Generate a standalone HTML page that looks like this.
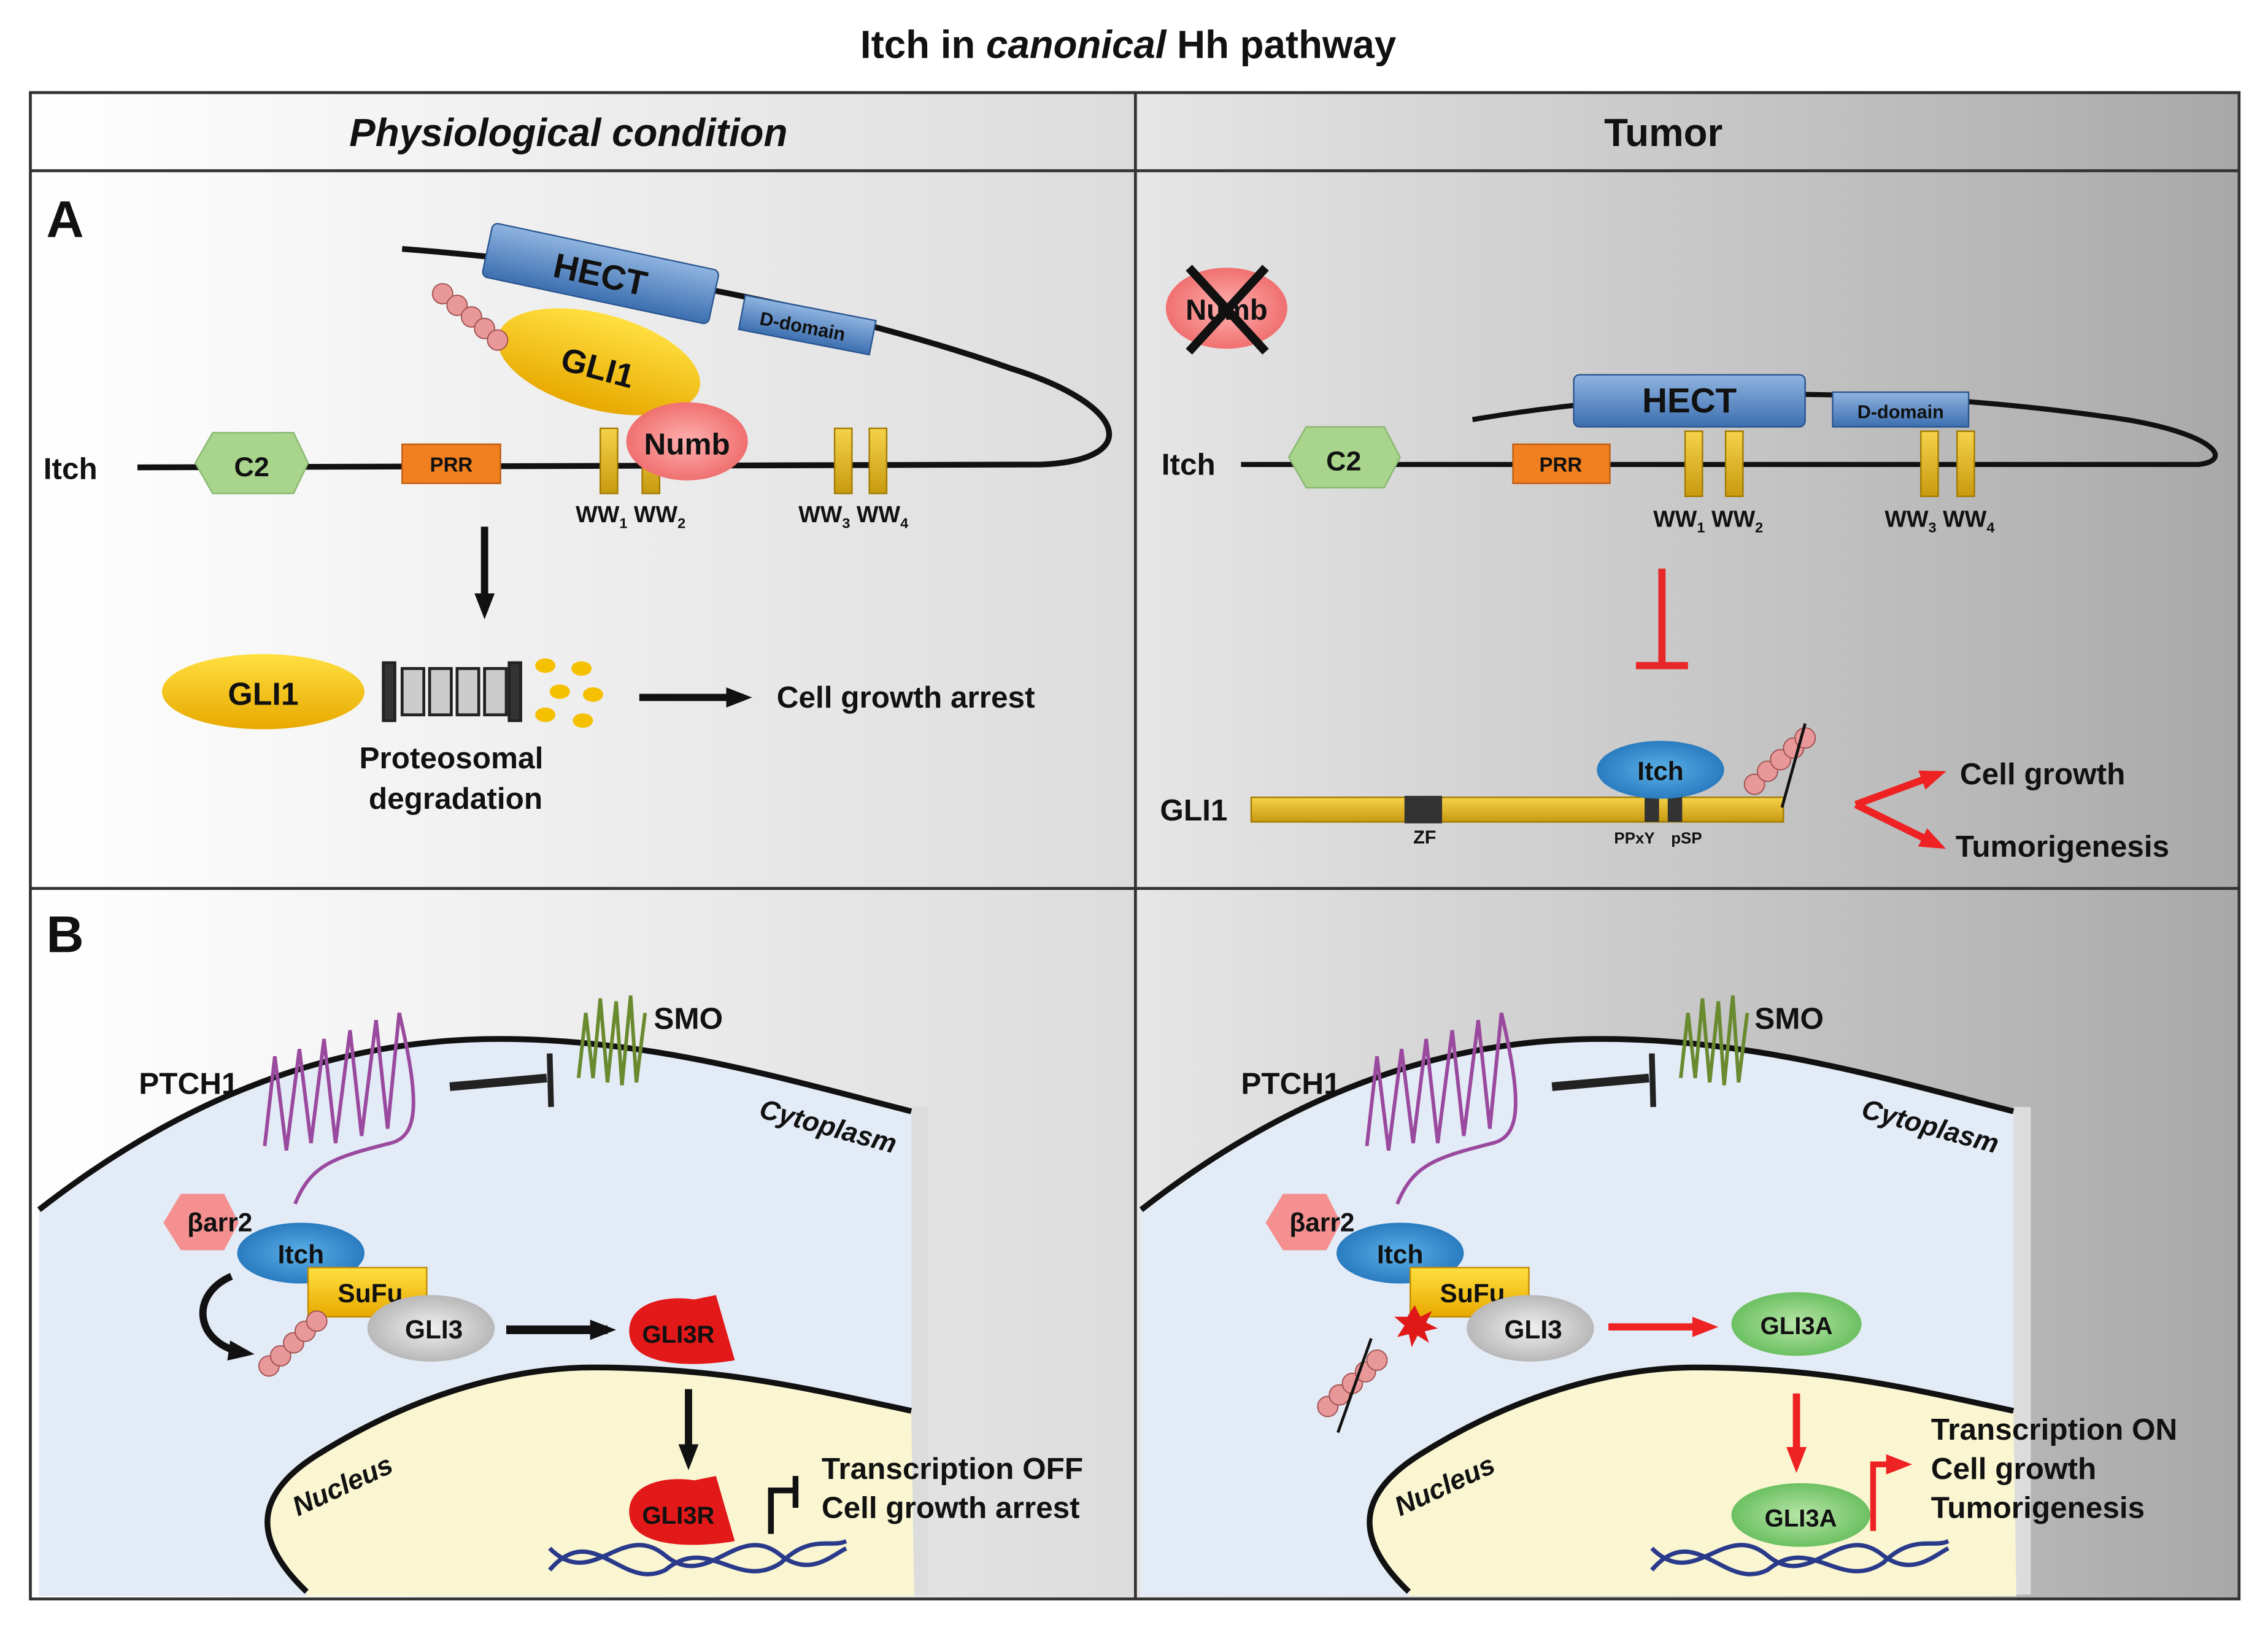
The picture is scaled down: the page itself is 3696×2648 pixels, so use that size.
<!DOCTYPE html>
<html><head><meta charset="utf-8"><style>
html,body{margin:0;padding:0;background:#fff}
svg{display:block}
text{font-family:"Liberation Sans",Arial,sans-serif;font-weight:bold;fill:#111}
</style></head><body>
<svg width="3696" height="2648" viewBox="0 0 1568 1123" preserveAspectRatio="none" xmlns="http://www.w3.org/2000/svg">
<defs>
<linearGradient id="gl" x1="0" x2="1"><stop offset="0" stop-color="#ffffff"/><stop offset="1" stop-color="#dcdcdc"/></linearGradient>
<linearGradient id="gr" x1="0" x2="1"><stop offset="0" stop-color="#e6e6e6"/><stop offset="0.8" stop-color="#b6b6b6"/><stop offset="1" stop-color="#a8a8a8"/></linearGradient>
<linearGradient id="hect" x1="0" y1="0" x2="0" y2="1"><stop offset="0" stop-color="#8fb4e0"/><stop offset="1" stop-color="#3c6fb0"/></linearGradient>
<linearGradient id="yel" x1="0" y1="0" x2="0" y2="1"><stop offset="0" stop-color="#ffe040"/><stop offset="1" stop-color="#e8a800"/></linearGradient>
<linearGradient id="bar" x1="0" y1="0" x2="0" y2="1"><stop offset="0" stop-color="#f5d24a"/><stop offset="1" stop-color="#c89a10"/></linearGradient>
<radialGradient id="blue"><stop offset="0" stop-color="#5bb0e8"/><stop offset="1" stop-color="#2a7cc0"/></radialGradient>
<radialGradient id="grey"><stop offset="0" stop-color="#f0f0f0"/><stop offset="1" stop-color="#b8b8b8"/></radialGradient>
<radialGradient id="green"><stop offset="0" stop-color="#b8e6a8"/><stop offset="1" stop-color="#6cc062"/></radialGradient>
<radialGradient id="pink"><stop offset="0" stop-color="#ffb0b0"/><stop offset="1" stop-color="#f07070"/></radialGradient>
<marker id="ab" markerUnits="userSpaceOnUse" markerWidth="18" markerHeight="18" refX="12" refY="9" orient="auto"><path d="M0,2L18,9L0,16z" fill="#111"/></marker>
<marker id="ar" markerUnits="userSpaceOnUse" markerWidth="18" markerHeight="18" refX="12" refY="9" orient="auto"><path d="M0,2L18,9L0,16z" fill="#ee2222"/></marker>
</defs>
<rect width="1568" height="1123" fill="#fff"/>
<text x="780" y="40" font-size="27" text-anchor="middle">Itch in <tspan font-style="italic">canonical</tspan> Hh pathway</text>
<rect x="21" y="64" width="764" height="1041" fill="url(#gl)"/>
<rect x="785" y="64" width="763" height="1041" fill="url(#gr)"/>
<rect x="21" y="64" width="1527" height="1041" fill="none" stroke="#333" stroke-width="2"/>
<line x1="785" y1="64" x2="785" y2="1105" stroke="#333" stroke-width="2"/>
<line x1="21" y1="118" x2="1548" y2="118" stroke="#333" stroke-width="2"/>
<line x1="21" y1="614" x2="1548" y2="614" stroke="#333" stroke-width="2"/>
<text x="393" y="101" font-size="27" font-style="italic" text-anchor="middle">Physiological condition</text>
<text x="1150" y="101" font-size="27" text-anchor="middle">Tumor</text>
<text x="32" y="164" font-size="36">A</text>
<text x="32" y="658" font-size="36">B</text>

<path d="M95,323 L720,321 C790,318 780,280 700,255 C600,220 450,185 278,172" fill="none" stroke="#111" stroke-width="4"/>
<g transform="rotate(12 415 190)"><rect x="335" y="170" width="160" height="38" rx="4" fill="url(#hect)" stroke="#2b5590"/><text x="415" y="198" font-size="24" text-anchor="middle" fill="#1a2a50">HECT</text></g>
<g transform="rotate(11 555 225)"><rect x="512" y="212" width="92" height="24" fill="url(#hect)" stroke="#2b5590"/><text x="555" y="230" font-size="13" text-anchor="middle" fill="#1a2a50">D-domain</text></g>
<ellipse cx="414" cy="250" rx="72" ry="33" transform="rotate(15 414 250)" fill="url(#yel)"/>
<text x="413" y="262" font-size="23" text-anchor="middle" transform="rotate(15 413 255)">GLI1</text>
<g fill="#e89898" stroke="#a05050" stroke-width="0.8"><circle cx="306" cy="203" r="7"/><circle cx="316" cy="211" r="7"/><circle cx="326" cy="219" r="7"/><circle cx="335" cy="227" r="7"/><circle cx="344" cy="235" r="7"/></g>
<g fill="url(#bar)" stroke="#a07a00"><rect x="415" y="296" width="12" height="45"/><rect x="444" y="296" width="12" height="45"/><rect x="577" y="296" width="12" height="45"/><rect x="601" y="296" width="12" height="45"/></g>
<ellipse cx="475" cy="305" rx="42" ry="27" fill="url(#pink)"/>
<text x="475" y="314" font-size="21" text-anchor="middle">Numb</text>
<text x="30" y="331" font-size="21">Itch</text>
<polygon points="135,320 147,299 203,299 213,320 203,341 147,341" fill="#a8d48c" stroke="#88b870"/>
<text x="174" y="329" font-size="19" text-anchor="middle">C2</text>
<rect x="278" y="307" width="68" height="27" fill="#f08020" stroke="#c05a10"/><text x="312" y="326" font-size="14" text-anchor="middle">PRR</text>
<text x="398" y="361" font-size="16">WW<tspan font-size="10" dy="4">1</tspan><tspan dy="-4"> WW</tspan><tspan font-size="10" dy="4">2</tspan></text>
<text x="552" y="361" font-size="16">WW<tspan font-size="10" dy="4">3</tspan><tspan dy="-4"> WW</tspan><tspan font-size="10" dy="4">4</tspan></text>
<line x1="335" y1="364" x2="335" y2="422" stroke="#111" stroke-width="5" marker-end="url(#ab)"/>
<ellipse cx="182" cy="478" rx="70" ry="26" fill="url(#yel)"/><text x="182" y="487" font-size="22" text-anchor="middle">GLI1</text>
<g fill="#ccc" stroke="#222" stroke-width="2"><rect x="265" y="458" width="8" height="40" fill="#333"/><rect x="278" y="462" width="15" height="32"/><rect x="297" y="462" width="15" height="32"/><rect x="316" y="462" width="15" height="32"/><rect x="335" y="462" width="15" height="32"/><rect x="352" y="458" width="8" height="40" fill="#333"/></g>
<g fill="#f5c000"><ellipse cx="377" cy="460" rx="7" ry="5"/><ellipse cx="402" cy="462" rx="7" ry="5"/><ellipse cx="387" cy="478" rx="7" ry="5"/><ellipse cx="410" cy="480" rx="7" ry="5"/><ellipse cx="377" cy="494" rx="7" ry="5"/><ellipse cx="403" cy="498" rx="7" ry="5"/></g>
<text x="312" y="531" font-size="21" text-anchor="middle">Proteosomal</text>
<text x="315" y="559" font-size="21" text-anchor="middle">degradation</text>
<line x1="442" y1="482" x2="514" y2="482" stroke="#111" stroke-width="5" marker-end="url(#ab)"/>
<text x="537" y="489" font-size="21">Cell growth arrest</text>

<ellipse cx="848" cy="213" rx="42" ry="28" fill="url(#pink)"/><text x="848" y="221" font-size="20" text-anchor="middle">Numb</text>
<path d="M822,185 L875,243 M875,185 L822,243" stroke="#111" stroke-width="6"/>
<path d="M858,321 L1520,321 C1545,318 1530,300 1470,290 C1350,272 1180,262 1018,290" fill="none" stroke="#111" stroke-width="3.5"/>
<rect x="1088" y="259" width="160" height="36" rx="4" fill="url(#hect)" stroke="#2b5590"/><text x="1168" y="285" font-size="24" text-anchor="middle" fill="#1a2a50">HECT</text>
<rect x="1267" y="271" width="94" height="24" fill="url(#hect)" stroke="#2b5590"/><text x="1314" y="289" font-size="13" text-anchor="middle" fill="#1a2a50">D-domain</text>
<text x="803" y="328" font-size="21">Itch</text>
<polygon points="891,316 903,295 957,295 968,316 957,337 903,337" fill="#a8d48c" stroke="#88b870"/>
<text x="929" y="325" font-size="19" text-anchor="middle">C2</text>
<rect x="1046" y="307" width="67" height="27" fill="#f08020" stroke="#c05a10"/><text x="1079" y="326" font-size="14" text-anchor="middle">PRR</text>
<g fill="url(#bar)" stroke="#a07a00"><rect x="1165" y="298" width="12" height="45"/><rect x="1193" y="298" width="12" height="45"/><rect x="1328" y="298" width="12" height="45"/><rect x="1353" y="298" width="12" height="45"/></g>
<text x="1143" y="364" font-size="16">WW<tspan font-size="10" dy="4">1</tspan><tspan dy="-4"> WW</tspan><tspan font-size="10" dy="4">2</tspan></text>
<text x="1303" y="364" font-size="16">WW<tspan font-size="10" dy="4">3</tspan><tspan dy="-4"> WW</tspan><tspan font-size="10" dy="4">4</tspan></text>
<path d="M1149,393 L1149,460 M1131,460 L1167,460" stroke="#e82828" stroke-width="5"/>
<text x="802" y="567" font-size="21">GLI1</text>
<rect x="865" y="551" width="368" height="17" fill="url(#bar)" stroke="#a07a00"/>
<rect x="971" y="550" width="26" height="19" fill="#333"/>
<rect x="1137" y="548" width="10" height="20" fill="#333"/><rect x="1153" y="548" width="10" height="20" fill="#333"/>
<text x="985" y="583" font-size="13" text-anchor="middle">ZF</text>
<text x="1130" y="583" font-size="11" text-anchor="middle">PPxY</text><text x="1166" y="583" font-size="11" text-anchor="middle">pSP</text>
<ellipse cx="1148" cy="532" rx="44" ry="20" fill="url(#blue)"/><text x="1148" y="539" font-size="18" text-anchor="middle">Itch</text>
<g fill="#e89898" stroke="#a05050" stroke-width="0.8"><circle cx="1213" cy="542" r="7"/><circle cx="1222" cy="533" r="7"/><circle cx="1231" cy="525" r="7"/><circle cx="1240" cy="517" r="7"/><circle cx="1248" cy="510" r="7"/></g>
<line x1="1248" y1="500" x2="1232" y2="558" stroke="#111" stroke-width="2"/>
<path d="M1283,556 L1340,584" fill="none" stroke="#ee2222" stroke-width="5" marker-end="url(#ar)"/>
<line x1="1283" y1="556" x2="1340" y2="535" stroke="#ee2222" stroke-width="5" marker-end="url(#ar)"/>
<text x="1355" y="542" font-size="21">Cell growth</text>
<text x="1352" y="592" font-size="21">Tumorigenesis</text>

<g id="cell">
<path d="M27,836 C150,740 260,718 345,718 C450,718 540,745 630,768 L632,1103 L27,1103 Z" fill="#e3ebf7"/>
<rect x="630" y="765" width="12" height="337" fill="#dcdcdc"/>
<path d="M27,836 C150,740 260,718 345,718 C450,718 540,745 630,768" fill="none" stroke="#111" stroke-width="4"/>
<path d="M212,1100 C170,1060 180,1030 220,1005 C300,955 370,945 410,945 C500,945 560,960 630,975 L632,1103 L212,1103 Z" fill="#faf6d2"/>
<path d="M212,1100 C170,1060 180,1030 220,1005 C300,955 370,945 410,945 C500,945 560,960 630,975" fill="none" stroke="#111" stroke-width="4"/>
<text x="524" y="772" font-size="19" font-weight="normal" font-style="italic" transform="rotate(15 524 772)">Cytoplasm</text>
<text x="206" y="1048" font-size="19" font-weight="normal" font-style="italic" transform="rotate(-25 206 1048)">Nucleus</text>
<path d="M183,792 L190,730 L198,795 L207,725 L215,790 L224,718 L232,790 L242,712 L250,785 L260,705 L268,780 L276,700 C290,760 290,785 270,790 C230,800 215,805 204,832" fill="none" stroke="#9a4a9e" stroke-width="2.5"/>
<text x="96" y="756" font-size="21">PTCH1</text>
<path d="M400,745 L405,700 L410,745 L415,690 L420,748 L426,692 L430,750 L436,688 L440,748 L446,700" fill="none" stroke="#6a8a30" stroke-width="2.5"/>
<line x1="311" y1="751" x2="378" y2="745" stroke="#222" stroke-width="6"/><line x1="380" y1="728" x2="381" y2="765" stroke="#222" stroke-width="4"/>
<polygon points="113,845 125,825 155,825 165,845 155,864 125,864" fill="#f59090"/>
</g>
<text x="452" y="711" font-size="21">SMO</text>
<text x="152" y="851" font-size="18" text-anchor="middle">βarr2</text>
<ellipse cx="208" cy="866" rx="44" ry="21" fill="url(#blue)"/><text x="208" y="873" font-size="18" text-anchor="middle">Itch</text>
<rect x="213" y="876" width="82" height="34" fill="url(#yel)" stroke="#c08a00"/><text x="256" y="900" font-size="18" text-anchor="middle">SuFu</text>
<ellipse cx="298" cy="918" rx="44" ry="23" fill="url(#grey)"/><text x="300" y="925" font-size="18" text-anchor="middle">GLI3</text>
<g fill="#e89898" stroke="#a05050" stroke-width="0.8"><circle cx="186" cy="944" r="7"/><circle cx="194" cy="937" r="7"/><circle cx="203" cy="928" r="7"/><circle cx="211" cy="920" r="7"/><circle cx="219" cy="913" r="7"/></g>
<path d="M160,882 C130,895 135,930 170,935" fill="none" stroke="#111" stroke-width="5" marker-end="url(#ab)"/>
<line x1="350" y1="919" x2="420" y2="919" stroke="#111" stroke-width="6" marker-end="url(#ab)"/>
<path d="M435,920 C435,900 460,895 480,898 L495,895 L508,940 C480,945 435,945 435,920 Z" fill="#e31818"/><text x="469" y="928" font-size="17" text-anchor="middle">GLI3R</text>
<line x1="476" y1="960" x2="476" y2="1010" stroke="#111" stroke-width="5" marker-end="url(#ab)"/>
<path d="M380,1085 C410,1050 430,1100 460,1085 C490,1060 510,1100 540,1080 C560,1060 575,1070 585,1065" fill="none" stroke="#2a3a8a" stroke-width="3"/>
<path d="M380,1070 C410,1100 430,1050 460,1075 C490,1100 510,1050 540,1075 C560,1090 575,1075 585,1070" fill="none" stroke="#2a3a8a" stroke-width="3"/>
<path d="M435,1045 C435,1025 460,1020 480,1023 L495,1020 L508,1065 C480,1070 435,1070 435,1045 Z" fill="#e31818"/><text x="469" y="1053" font-size="17" text-anchor="middle">GLI3R</text>
<path d="M533,1060 L533,1030 L550,1030 M550,1020 L550,1042" fill="none" stroke="#111" stroke-width="4"/>
<text x="568" y="1022" font-size="21">Transcription OFF</text>
<text x="568" y="1049" font-size="21">Cell growth arrest</text>

<use href="#cell" transform="translate(762,0)"/>
<text x="1213" y="711" font-size="21">SMO</text>
<text x="914" y="851" font-size="18" text-anchor="middle">βarr2</text>
<ellipse cx="968" cy="866" rx="44" ry="21" fill="url(#blue)"/><text x="968" y="873" font-size="18" text-anchor="middle">Itch</text>
<rect x="975" y="876" width="82" height="34" fill="url(#yel)" stroke="#c08a00"/><text x="1018" y="900" font-size="18" text-anchor="middle">SuFu</text>
<ellipse cx="1058" cy="918" rx="44" ry="23" fill="url(#grey)"/><text x="1060" y="925" font-size="18" text-anchor="middle">GLI3</text>
<polygon points="978,902 982,910 990,906 986,914 994,918 985,920 988,928 980,923 976,931 974,922 966,924 971,916 964,910 973,910" fill="#e01818"/>
<g fill="#e89898" stroke="#a05050" stroke-width="0.8"><circle cx="918" cy="972" r="7"/><circle cx="926" cy="964" r="7"/><circle cx="935" cy="956" r="7"/><circle cx="944" cy="948" r="7"/><circle cx="952" cy="940" r="7"/></g>
<line x1="948" y1="925" x2="925" y2="990" stroke="#111" stroke-width="2"/>
<line x1="1112" y1="917" x2="1182" y2="917" stroke="#ee2222" stroke-width="5" marker-end="url(#ar)"/>
<ellipse cx="1242" cy="915" rx="45" ry="22" fill="url(#green)"/><text x="1242" y="922" font-size="17" text-anchor="middle">GLI3A</text>
<line x1="1242" y1="963" x2="1242" y2="1012" stroke="#ee2222" stroke-width="5" marker-end="url(#ar)"/>
<path d="M1142,1085 C1172,1050 1192,1100 1222,1085 C1252,1060 1272,1100 1302,1080 C1322,1060 1337,1070 1347,1065" fill="none" stroke="#2a3a8a" stroke-width="3"/>
<path d="M1142,1070 C1172,1100 1192,1050 1222,1075 C1252,1100 1272,1050 1302,1075 C1322,1090 1337,1075 1347,1070" fill="none" stroke="#2a3a8a" stroke-width="3"/>
<ellipse cx="1245" cy="1047" rx="48" ry="22" fill="url(#green)"/><text x="1245" y="1055" font-size="17" text-anchor="middle">GLI3A</text>
<path d="M1295,1058 L1295,1012 L1316,1012" fill="none" stroke="#ee2222" stroke-width="4" marker-end="url(#ar)"/>
<text x="1335" y="995" font-size="21">Transcription ON</text>
<text x="1335" y="1022" font-size="21">Cell growth</text>
<text x="1335" y="1049" font-size="21">Tumorigenesis</text>
</svg>
</body></html>
